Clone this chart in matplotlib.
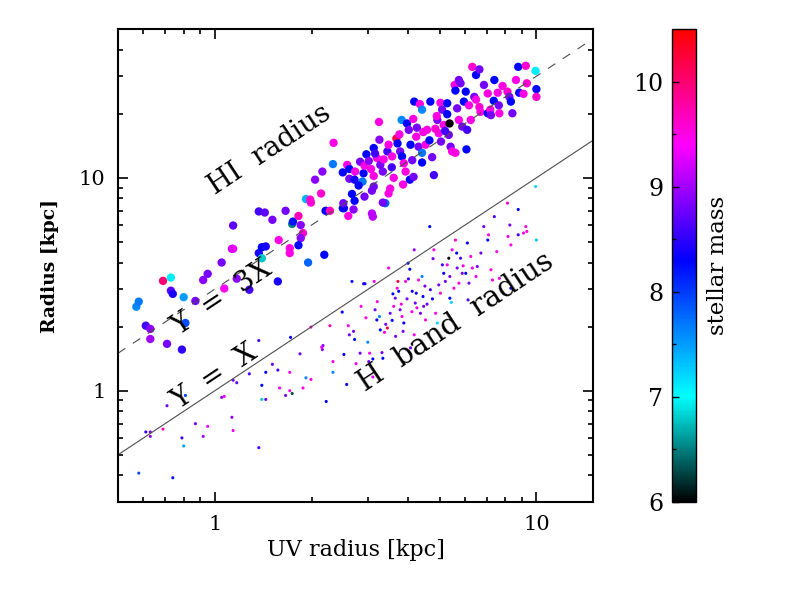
import matplotlib
matplotlib.use("Agg")
import matplotlib.pyplot as plt
import numpy as np
from matplotlib.colors import LinearSegmentedColormap, Normalize
from matplotlib.ticker import LogLocator, NullFormatter, FixedLocator

plt.rcParams['font.family'] = ['DejaVu Serif']

# HI radius sample: UV radius [kpc], HI radius [kpc], stellar mass
hi_uv = [0.57, 0.58, 0.61, 0.63, 0.63, 0.69, 0.73, 0.73, 0.74, 0.71, 0.79, 0.80, 0.81, 0.87,
         0.92, 0.95, 1.05, 1.07, 1.13, 1.14, 1.14, 1.17, 1.28, 1.37, 1.43, 1.37, 1.40, 1.44,
         1.40, 1.51, 1.57, 1.58, 1.66, 1.71, 1.71, 1.74, 1.75, 1.82, 1.85, 1.88, 1.85, 1.82,
         1.95, 2.19, 1.92, 1.98, 1.99, 2.05, 2.14, 2.16, 2.34, 2.33, 2.21, 2.28, 2.50, 2.52,
         2.51, 2.60, 2.70, 2.72, 2.67, 2.50, 2.58, 2.62, 2.73, 2.62, 2.72, 2.88, 2.90, 2.83,
         2.92, 2.96, 3.01, 3.06, 3.12, 3.12, 2.92, 3.08, 3.08, 3.10, 3.12, 3.19, 3.27, 3.25,
         3.24, 3.33, 3.39, 3.33, 3.51, 3.47, 3.44, 3.47, 3.56, 3.67, 3.70, 3.77, 3.82, 3.87,
         3.92, 3.85, 3.81, 3.96, 4.01, 4.06, 4.11, 4.04, 4.15, 4.14, 4.17, 4.23, 4.30, 4.41,
         4.41, 4.34, 4.41, 4.52, 4.57, 4.68, 4.74, 4.80, 4.92, 4.97, 5.03, 5.09, 5.15, 5.28,
         5.28, 5.37, 5.34, 5.41, 5.47, 5.60, 5.57, 5.60, 5.74, 5.81, 5.67, 5.74, 5.88, 5.95,
         6.03, 6.06, 6.09, 6.17, 6.25, 6.32, 6.41, 6.49, 6.49, 6.65, 6.65, 6.70, 6.87, 7.06,
         7.06, 7.19, 7.22, 7.37, 7.40, 7.58, 7.64, 7.67, 7.85, 8.13, 8.24, 8.33, 8.42, 8.64,
         8.78, 8.84, 9.12, 9.27, 9.34, 9.94, 10.0, 10.0,
         3.35, 3.55, 3.75, 4.25, 4.45, 4.65, 4.85, 5.05, 3.15, 3.60, 2.80, 4.90, 5.20]
hi_r = [2.48, 2.62, 2.02, 1.95, 1.75, 3.28, 3.40, 2.95, 2.85, 1.66, 1.56, 2.75, 2.08, 2.64,
        3.31, 3.54, 4.00, 3.02, 4.64, 4.64, 5.97, 3.36, 2.98, 6.95, 6.87, 4.43, 4.72, 4.76,
        4.19, 6.35, 3.26, 5.10, 7.00, 4.43, 4.67, 6.07, 6.23, 6.62, 6.00, 5.50, 5.21, 4.82,
        4.00, 4.35, 7.95, 7.90, 7.65, 9.80, 8.44, 10.7, 14.6, 11.6, 7.00, 7.00, 7.20, 7.20,
        7.60, 6.62, 7.10, 7.80, 8.40, 10.6, 11.5, 11.0, 10.7, 9.90, 9.80, 9.60, 10.5, 11.9,
        11.4, 12.9, 12.0, 11.0, 10.2, 9.10, 8.16, 8.70, 6.80, 6.57, 13.8, 12.4, 11.5, 15.1,
        18.3, 10.7, 7.60, 7.65, 8.90, 8.44, 13.3, 14.3, 12.6, 15.3, 14.5, 13.3, 12.6, 11.7,
        10.7, 9.30, 18.7, 18.0, 16.8, 14.3, 12.1, 9.80, 10.1, 18.9, 22.8, 15.6, 14.0, 13.1,
        11.8, 22.2, 20.9, 14.3, 16.8, 22.8, 12.5, 10.3, 18.7, 16.2, 22.5, 20.9, 17.7, 22.4,
        19.9, 18.0, 15.9, 14.0, 13.3, 13.1, 27.3, 25.7, 28.8, 27.8, 21.2, 18.7, 17.4, 22.8,
        25.4, 13.6, 16.8, 21.9, 18.7, 33.2, 24.0, 23.3, 30.4, 32.3, 21.5, 20.4, 27.3, 24.9,
        20.1, 20.9, 19.7, 23.0, 28.8, 25.1, 21.9, 20.1, 27.0, 25.4, 24.0, 22.8, 20.1, 28.8,
        33.2, 25.1, 24.8, 33.6, 27.8, 31.8, 26.1, 24.0,
        12.2, 11.2, 16.0, 17.2, 16.4, 15.0, 17.0, 14.8, 13.0, 10.0, 9.2, 19.5, 16.6]
hi_mass = [7.6, 7.7, 8.6, 8.9, 9.0, 10.0, 7.1, 8.7, 8.4, 8.8, 8.5, 7.5, 7.9, 8.8,
           8.9, 8.8, 8.8, 9.4, 9.1, 9.3, 8.7, 8.9, 8.6, 8.6, 8.7, 8.4, 8.3, 8.4,
           6.8, 8.8, 8.4, 9.5, 8.8, 9.5, 9.5, 6.5, 8.2, 9.7, 8.9, 9.6, 8.9, 8.3,
           7.8, 8.3, 7.4, 9.6, 9.6, 8.9, 9.6, 8.9, 9.5, 7.7, 8.3, 9.7, 8.3, 8.3,
           8.8, 9.5, 8.9, 8.3, 8.3, 8.3, 9.5, 8.3, 9.5, 8.8, 8.4, 7.7, 8.3, 8.8,
           9.5, 8.3, 8.9, 9.5, 9.5, 8.8, 8.8, 8.8, 9.1, 9.1, 8.3, 9.5, 8.8, 8.9,
           9.5, 8.8, 7.8, 8.8, 9.5, 9.5, 8.6, 9.5, 9.5, 10.2, 8.3, 8.8, 8.3, 9.5,
           9.5, 9.5, 7.6, 8.3, 8.8, 8.3, 8.8, 8.3, 8.8, 9.5, 8.3, 9.5, 8.8, 7.7,
           8.3, 9.5, 7.6, 9.5, 9.5, 8.3, 8.8, 8.6, 8.8, 9.5, 9.5, 8.8, 9.5, 8.3,
           8.3, 6.0, 8.8, 8.8, 9.5, 9.5, 9.5, 8.3, 8.8, 8.8, 8.8, 9.5, 8.8, 8.3,
           8.3, 8.3, 8.6, 9.5, 9.5, 9.6, 8.8, 9.5, 8.3, 8.8, 9.6, 9.5, 8.8, 9.5,
           8.3, 9.5, 8.8, 8.3, 8.3, 9.5, 8.8, 9.5, 9.5, 9.6, 8.8, 8.3, 8.8, 9.5,
           8.3, 8.3, 9.5, 9.6, 9.6, 7.1, 8.3, 9.6,
           9.5, 8.6, 9.5, 8.8, 9.5, 8.3, 9.6, 8.8, 8.6, 9.5, 8.3, 9.5, 8.6]

# H band sample: UV radius [kpc], H band radius [kpc], stellar mass
h_uv = [0.58, 0.74, 0.61, 0.63, 0.63, 0.69, 0.71, 0.79, 0.80, 0.81, 0.87, 0.92, 0.95, 1.05,
        1.07, 1.13, 1.14, 1.14, 1.17, 1.28, 1.37, 1.37, 1.40, 1.40, 1.44, 1.44, 1.51, 1.57,
        1.59, 1.66, 1.71, 1.71, 1.74, 1.72, 1.84, 1.88, 1.92, 1.99, 1.99, 2.16, 2.17, 2.15,
        2.22, 2.28, 2.33, 2.33, 2.49, 2.52, 2.57, 2.60, 2.62, 2.70, 2.72, 2.67, 2.75, 2.83,
        2.85, 2.90, 2.93, 2.99, 3.01, 3.03, 3.10, 3.10, 3.13, 3.15, 3.19, 3.25, 3.27, 3.31,
        3.33, 3.37, 3.44, 3.47, 3.51, 3.56, 3.60, 3.64, 3.69, 3.71, 3.73, 3.77, 3.82, 3.85,
        3.87, 3.92, 3.96, 3.99, 4.04, 4.06, 4.11, 4.17, 4.17, 4.20, 4.23, 4.30, 4.36, 4.41,
        4.44, 4.46, 4.52, 4.57, 4.66, 4.68, 4.77, 4.80, 4.86, 4.92, 4.97, 5.03, 5.15, 5.21,
        5.28, 5.34, 5.38, 5.38, 5.44, 5.47, 5.54, 5.60, 5.65, 5.67, 5.74, 5.81, 5.88, 5.92,
        6.03, 6.10, 6.13, 6.17, 6.25, 6.32, 6.49, 6.55, 6.72, 6.86, 7.06, 7.10, 7.22, 7.30,
        7.40, 7.53, 7.67, 8.13, 8.16, 8.27, 8.33, 8.33, 8.78, 8.78, 9.12, 9.34, 9.27, 9.94,
        10.0,
        3.20, 3.40, 3.58, 3.80, 4.00, 4.25, 4.50, 4.75, 2.95, 3.65, 4.10, 5.10]
h_r = [0.41, 0.39, 0.64, 0.64, 0.61, 0.66, 0.85, 0.60, 0.55, 0.95, 0.70, 0.61, 0.68, 0.93,
       0.94, 0.75, 0.65, 1.12, 1.09, 1.20, 1.72, 0.54, 1.06, 0.91, 0.91, 1.22, 1.33, 1.25,
       1.03, 0.95, 1.22, 1.00, 0.97, 1.78, 1.49, 1.03, 1.15, 1.13, 1.99, 1.56, 1.63, 1.60,
       0.89, 2.02, 1.22, 1.37, 2.34, 1.48, 1.07, 2.02, 1.83, 1.90, 1.74, 3.26, 1.34, 1.50,
       2.49, 3.18, 3.18, 1.69, 1.37, 1.50, 1.16, 1.41, 3.26, 2.40, 2.15, 2.23, 1.93, 1.51,
       1.42, 1.88, 1.97, 3.77, 2.31, 2.14, 2.49, 2.72, 3.03, 3.26, 2.93, 2.40, 2.23, 1.90,
       2.08, 3.26, 2.70, 3.97, 3.72, 1.59, 2.93, 4.59, 1.83, 2.58, 2.87, 3.31, 2.31, 3.44,
       2.77, 2.49, 2.15, 2.55, 5.90, 2.98, 4.17, 4.59, 2.31, 2.08, 3.14, 2.87, 3.56, 3.26,
       3.90, 4.19, 3.44, 2.72, 2.60, 4.59, 3.03, 5.10, 4.43, 3.77, 3.20, 4.19, 3.56, 3.86,
       3.56, 4.94, 2.67, 3.20, 4.27, 3.77, 3.44, 3.83, 4.43, 5.90, 5.10, 5.40, 3.70, 3.31,
       6.57, 4.50, 3.37, 7.60, 5.30, 6.00, 4.84, 3.03, 7.10, 5.40, 5.50, 5.60, 5.90, 9.10,
       5.10,
       2.62, 2.05, 2.85, 2.55, 3.35, 2.45, 3.10, 2.70, 2.20, 1.80, 2.35, 3.90]
h_mass = [7.9, 8.2, 8.5, 8.8, 8.9, 9.7, 8.8, 8.6, 7.5, 8.0, 8.8, 9.0, 9.3, 8.9,
          9.3, 8.9, 9.3, 8.8, 8.7, 8.6, 8.6, 8.6, 8.3, 6.8, 8.7, 8.3, 8.7, 8.6,
          9.4, 8.8, 9.5, 9.5, 6.3, 8.3, 8.8, 9.5, 7.6, 9.5, 9.6, 8.9, 8.9, 9.3,
          8.3, 9.7, 7.6, 9.5, 8.3, 8.3, 8.3, 9.5, 8.8, 8.8, 8.3, 8.2, 9.5, 8.8,
          9.5, 8.6, 8.3, 7.6, 8.8, 9.5, 9.3, 8.3, 9.5, 8.8, 8.3, 7.6, 8.3, 8.8,
          8.3, 9.5, 10.2, 9.5, 8.8, 8.3, 9.5, 8.8, 9.5, 10.2, 8.3, 8.8, 9.5, 8.8,
          8.3, 9.5, 8.8, 8.3, 8.3, 8.8, 8.3, 8.9, 9.5, 8.8, 8.3, 9.5, 8.8, 7.6,
          8.3, 8.8, 9.5, 8.8, 8.3, 8.6, 8.8, 9.5, 9.5, 7.2, 8.8, 9.5, 8.3, 8.8,
          9.5, 6.0, 8.8, 8.3, 7.2, 9.5, 9.5, 9.5, 8.3, 8.8, 9.5, 8.6, 8.8, 9.5,
          8.3, 8.3, 8.6, 8.8, 9.5, 9.5, 9.5, 8.8, 8.8, 8.8, 8.3, 9.5, 9.5, 9.5,
          8.6, 9.5, 9.5, 9.6, 9.5, 8.8, 9.5, 8.3, 8.3, 8.6, 9.5, 9.5, 9.5, 7.2,
          7.3,
          9.5, 8.8, 8.3, 9.5, 8.6, 9.5, 8.8, 8.3, 9.5, 8.8, 9.5, 8.6]

line_x = [0.5, 15.0]

# black -> cyan -> blue -> magenta -> red, like the IDL table
mmin, mmax = 6.0, 10.5
stops = [(0.0, (0, 0, 0)),
         ((7.0 - mmin) / (mmax - mmin), (0, 1, 1)),
         ((8.3 - mmin) / (mmax - mmin), (0, 0, 1)),
         ((9.4 - mmin) / (mmax - mmin), (1, 0, 1)),
         (1.0, (1, 0, 0))]
cmap = LinearSegmentedColormap.from_list("mass", stops)
norm = Normalize(mmin, mmax)

fig = plt.figure(figsize=(7.89, 5.92), dpi=100)
ax = fig.add_axes([0.1496, 0.152, 0.602, 0.799])

ax.plot(line_x, line_x, color='0.3', lw=0.8)
ax.plot(line_x, [3 * v for v in line_x], color='0.3', lw=0.8, ls=(0, (8, 8)))

ax.scatter(h_uv, h_r, c=h_mass, cmap=cmap, norm=norm, s=5, linewidths=0)
ax.scatter(hi_uv, hi_r, c=hi_mass, cmap=cmap, norm=norm, s=36, linewidths=0)

ax.set_xscale('log')
ax.set_yscale('log')
ax.set_xlim(0.5, 15)
ax.set_ylim(0.3, 50)
ax.xaxis.set_major_locator(FixedLocator([1, 10]))
ax.yaxis.set_major_locator(FixedLocator([1, 10]))
ax.set_xticklabels(['1', '10'])
ax.set_yticklabels(['1', '10'])
ax.xaxis.set_minor_locator(LogLocator(base=10, subs=np.arange(2, 10)))
ax.yaxis.set_minor_locator(LogLocator(base=10, subs=np.arange(2, 10)))
ax.xaxis.set_minor_formatter(NullFormatter())
ax.yaxis.set_minor_formatter(NullFormatter())
ax.tick_params(which='both', direction='in', top=True, right=True, labelsize=15, width=1.2)
ax.tick_params(which='major', length=7, pad=9)
ax.tick_params(which='minor', length=3.5)
for sp in ax.spines.values():
    sp.set_linewidth(1.5)

ax.set_xlabel('UV radius [kpc]', fontsize=16, labelpad=4)
ax.set_ylabel('Radius [kpc]', fontsize=13.5, fontweight='bold', labelpad=14)

rot = 33.6
ax.text(1.48, 13.5, 'HI  radius', fontsize=20, rotation=rot, rotation_mode='anchor',
        ha='center', va='center')
ax.text(1.05, 2.73, 'Y  =  3X', fontsize=20, rotation=rot, rotation_mode='anchor',
        ha='center', va='center')
ax.text(1.0, 1.16, 'Y  =  X', fontsize=20, rotation=rot, rotation_mode='anchor',
        ha='center', va='center')
ax.text(5.6, 2.11, 'H  band  radius', fontsize=21, rotation=rot, rotation_mode='anchor',
        ha='center', va='center')

cax = fig.add_axes([0.8513, 0.152, 0.0304, 0.799])
sm = plt.cm.ScalarMappable(norm=norm, cmap=cmap)
cb = fig.colorbar(sm, cax=cax)
cb.set_ticks([6, 7, 8, 9, 10])
cb.ax.yaxis.set_minor_locator(FixedLocator([6.5, 7.5, 8.5, 9.5]))
cb.ax.yaxis.set_ticks_position('left')
cb.ax.yaxis.set_label_position('right')
cb.ax.tick_params(which='both', direction='in', labelsize=17, width=1)
cb.ax.tick_params(which='major', length=5, pad=6)
cb.ax.tick_params(which='minor', length=3)
cb.outline.set_linewidth(1)
cb.set_label('stellar mass', fontsize=16.5, labelpad=8)

fig.savefig('out.png', dpi=100)
